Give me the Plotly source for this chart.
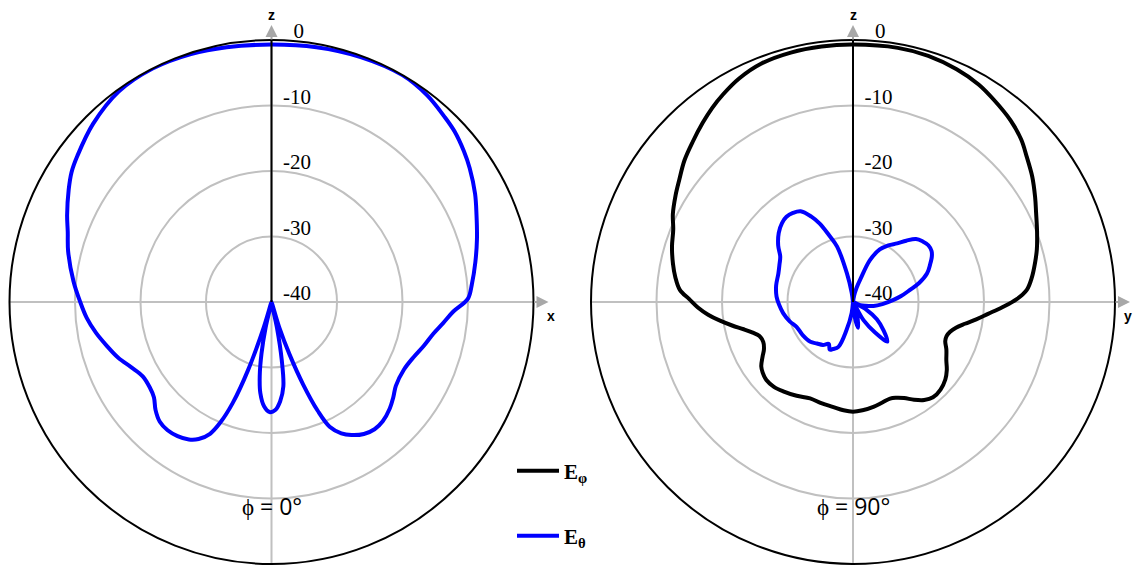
import plotly.graph_objects as go

# ---------------- data (dB, normalised) ----------------
# phi = 0 deg cut, E_theta component
theta_phi0 = [0, 10, 20, 30, 37, 43, 47, 52, 56, 62, 67, 73, 79, 85, 89, 93, 97, 101, 106, 111,
              117, 124, 128, 132, 137, 141, 145, 149, 152, 155, 157, 159, 161, 163, 165, 168, 170, 172, 175, 178,
              181, 184, 187, 189, 191, 193, 195, 197, 199, 201, 203, 205, 208, 211, 215, 219, 223, 227, 231, 235,
              240, 245, 250, 255, 260, 265, 270, 276, 284, 289, 293, 299, 303, 307, 315, 324, 333, 342, 350, 360]
eth_phi0 = [-0.7, -0.5, -0.2, 0.0, -0.5, -1.3, -1.8, -2.7, -3.5, -4.8, -6.0, -7.2, -8.3, -9.3, -10.0, -12.2, -13.6, -14.8, -15.8, -16.7,
            -17.3, -17.1, -16.4, -15.7, -15.1, -15.0, -15.4, -16.3, -17.3, -19.0, -22.0, -26.5, -31.5, -36.0, -40.0, -36.0, -31.0, -27.0, -24.8, -23.5,
            -23.2, -24.0, -26.0, -28.5, -32.0, -36.0, -40.0, -36.0, -29.0, -23.5, -20.0, -17.8, -16.3, -15.5, -15.0, -14.8, -15.0, -15.8, -16.9, -17.3,
            -17.3, -16.4, -15.1, -14.0, -12.8, -11.7, -10.8, -9.6, -8.0, -7.1, -6.1, -4.6, -3.6, -2.9, -1.5, -0.3, 0.0, -0.2, -0.5, -0.7]

# phi = 90 deg cut, E_phi component
theta_phi90_eph = [0, 10, 17, 24, 30, 35, 41, 46, 50, 55, 60, 64, 69, 74, 78, 82, 86, 89, 92, 95,
                   98, 101, 104, 107, 110, 113, 117, 122, 126, 130, 135, 140, 144, 148, 152, 156, 159, 164, 169, 175,
                   180, 185, 191, 197, 204, 211, 218, 223, 228, 232, 235, 239, 242, 246, 250, 253, 256, 259, 262, 265,
                   268, 271, 274, 278, 282, 287, 292, 296, 301, 305, 310, 315, 320, 324, 328, 333, 339, 346, 353, 360]
eph_phi90 = [-0.7, -0.6, -0.7, -1.1, -1.65, -2.4, -3.3, -4.3, -5.4, -6.6, -7.9, -8.9, -9.9, -10.8, -11.6, -12.4, -13.4, -15.0, -17.2, -19.3,
             -21.0, -22.6, -23.8, -24.5, -24.8, -24.7, -24.0, -23.2, -22.3, -21.6, -21.1, -21.0, -21.5, -22.4, -23.4, -24.0, -24.2, -24.0, -23.7, -23.4,
             -23.25, -23.4, -23.7, -23.8, -23.9, -23.3, -22.7, -22.3, -22.2, -22.5, -22.9, -23.9, -24.6, -25.0, -24.8, -24.0, -22.8, -21.2, -19.5, -17.8,
             -16.3, -15.0, -13.5, -12.6, -11.9, -11.1, -10.4, -9.4, -8.4, -7.6, -6.4, -5.4, -4.3, -3.4, -2.6, -1.7, -1.0, -0.75, -0.7, -0.7]

# phi = 90 deg cut, E_theta component
theta_phi90_eth = [0, 5, 10, 14, 18, 22, 27, 32, 37, 41, 45, 49, 53, 57, 60, 64, 69, 74, 78, 83,
                   87, 94, 101, 107, 113, 117, 120, 126, 133, 139, 144, 150, 155, 162, 169, 174, 178, 182, 187, 193,
                   198, 203, 206, 210, 215, 221, 227, 237, 246, 253, 261, 268, 274, 282, 291, 297, 302, 307, 313, 318,
                   322, 326, 330, 334, 337, 340, 344, 348, 352, 356, 360]
eth_phi90 = [-40.0, -40.0, -39.0, -37.8, -36.3, -33.1, -31.0, -29.8, -28.8, -27.6, -26.4, -25.9, -25.6, -25.7, -26.1, -26.9, -27.9, -29.5, -31.1, -32.6,
             -33.8, -35.5, -36.8, -38.0, -38.8, -40.0, -37.6, -35.5, -33.6, -32.0, -34.2, -36.8, -40.0, -38.0, -36.0, -38.0, -40.0, -40.0, -38.3, -35.6,
             -32.8, -32.2, -31.9, -32.6, -32.0, -31.6, -31.1, -30.8, -30.6, -29.9, -29.2, -28.7, -28.3, -28.0, -27.8, -27.4, -26.9, -25.7, -24.5, -23.8,
             -23.5, -23.6, -24.0, -25.5, -27.0, -29.0, -31.2, -35.5, -38.5, -40.0, -40.0]

assert len(theta_phi0) == len(eth_phi0)
assert len(theta_phi90_eph) == len(eph_phi90)
assert len(theta_phi90_eth) == len(eth_phi90)

r_tickvals = [-40, -30, -20, -10, 0]
r_ticktext = ["-40", "-30", "-20", "-10", "\u20070"]
ang_tickvals = [0, 90, 180, 270]
legend_names = ["<b>E<sub>φ</sub></b>", "<b>E<sub>θ</sub></b>"]
cut_labels = ["ϕ = 0°", "ϕ = 90°"]

BLUE = "#0000ff"
BLACK = "#000000"
GRID = "#c0c0c0"
ARROW = "#a8a8a8"

W, H = 1138, 566
R = 262
CY = 302
CX_LEFT, CX_RIGHT = 271.5, 853
LAB_DX, LAB_DY = 11, 8.5   # tick-label offset (px) right / up of the radial ticks

fig = go.Figure()
line_common = dict(width=4, shape="spline", smoothing=1.0)
fig.add_trace(go.Scatterpolar(r=eph_phi90, theta=theta_phi90_eph, mode="lines",
                              line=dict(color=BLACK, **line_common), name=legend_names[0],
                              subplot="polar2", legend="legend"))
fig.add_trace(go.Scatterpolar(r=eth_phi90, theta=theta_phi90_eth, mode="lines",
                              line=dict(color=BLUE, **line_common), name=legend_names[1],
                              subplot="polar2", legend="legend2"))
fig.add_trace(go.Scatterpolar(r=eth_phi0, theta=theta_phi0, mode="lines",
                              line=dict(color=BLUE, **line_common), name=legend_names[1],
                              subplot="polar", showlegend=False))
# invisible traces that carry the overlay polar subplots used for the radial tick labels
for sp in ["polar3", "polar4"]:
    fig.add_trace(go.Scatterpolar(r=[-40], theta=[0], mode="markers", marker=dict(opacity=0),
                                  subplot=sp, showlegend=False, hoverinfo="skip"))


def dom(cx, cy):
    return dict(x=[(cx - R) / W, (cx + R) / W], y=[(H - cy - R) / H, (H - cy + R) / H])


def polar_cfg(cx):
    return dict(
        domain=dom(cx, CY),
        bgcolor="white",
        angularaxis=dict(rotation=90, direction="clockwise", tickvals=ang_tickvals,
                         showticklabels=False, ticks="", showgrid=True, gridcolor=GRID,
                         gridwidth=2, showline=True, linecolor=BLACK, linewidth=2),
        radialaxis=dict(range=[-40, 0], tickvals=r_tickvals, angle=90,
                        showticklabels=False,
                        showline=True, linecolor=BLACK, linewidth=2, showgrid=True,
                        gridcolor=GRID, gridwidth=2, ticks=""),
    )


def label_cfg(cx):
    return dict(
        domain=dom(cx + LAB_DX, CY - LAB_DY),
        bgcolor="rgba(0,0,0,0)",
        angularaxis=dict(rotation=90, direction="clockwise", visible=False),
        radialaxis=dict(range=[-40, 0], tickvals=r_tickvals, ticktext=r_ticktext, angle=90,
                        tickangle=90, showline=False, showgrid=False, ticks="",
                        tickfont=dict(family="Liberation Serif", size=21, color=BLACK)),
    )


annotations = []
for cx, lab, axl, dx_lab in [(CX_LEFT, cut_labels[0], "x", 17), (CX_RIGHT, cut_labels[1], "y", 13)]:
    # z arrow
    annotations.append(dict(x=cx / W, y=(H - 25) / H, xref="paper", yref="paper", text="",
                            showarrow=True, ax=0, ay=16, arrowcolor=ARROW, arrowwidth=2,
                            arrowhead=2, arrowsize=1.2))
    annotations.append(dict(x=cx / W, y=(H - 15) / H, xref="paper", yref="paper",
                            xanchor="center", yanchor="middle",
                            text="<b>z</b>", showarrow=False,
                            font=dict(family="Liberation Sans", size=14, color=BLACK)))
    # horizontal arrow
    annotations.append(dict(x=(cx + R + 15) / W, y=(H - CY) / H, xref="paper", yref="paper",
                            text="", showarrow=True, ax=-16, ay=0, arrowcolor=ARROW,
                            arrowwidth=2, arrowhead=2, arrowsize=1.2))
    annotations.append(dict(x=(cx + R + dx_lab) / W, y=(H - 316) / H, xref="paper", yref="paper",
                            xanchor="center", yanchor="middle",
                            text="<b>" + axl + "</b>", showarrow=False,
                            font=dict(family="Liberation Sans", size=14, color=BLACK)))
    annotations.append(dict(x=cx / W, y=(H - 506) / H, xref="paper", yref="paper",
                            xanchor="center", yanchor="middle",
                            text=lab, showarrow=False,
                            font=dict(family="Open Sans", size=23, color=BLACK)))

fig.update_layout(
    width=W, height=H, autosize=False,
    margin=dict(l=0, r=0, t=0, b=0),
    paper_bgcolor="white",
    polar=polar_cfg(CX_LEFT),
    polar2=polar_cfg(CX_RIGHT),
    polar3=label_cfg(CX_LEFT),
    polar4=label_cfg(CX_RIGHT),
    legend=dict(x=512 / W, y=(H - 471) / H, xanchor="left", yanchor="middle",
                itemwidth=42,
                font=dict(family="Liberation Serif", size=21, color=BLACK),
                bgcolor="rgba(0,0,0,0)"),
    legend2=dict(x=512 / W, y=(H - 536) / H, xanchor="left", yanchor="middle",
                 itemwidth=42,
                 font=dict(family="Liberation Serif", size=21, color=BLACK),
                 bgcolor="rgba(0,0,0,0)"),
    annotations=annotations,
)

fig.write_html("out.html", post_script="document.body.style.margin='0';",
               config={"displayModeBar": False})
